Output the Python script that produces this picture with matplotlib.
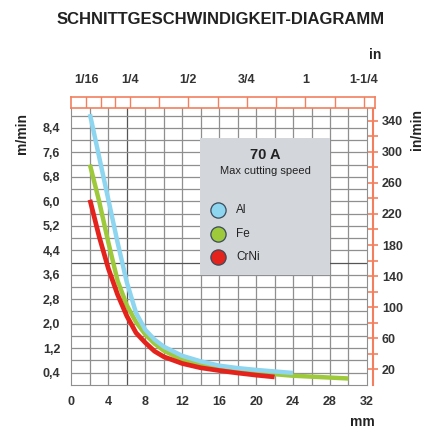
import matplotlib.pyplot as plt
from matplotlib.patches import Rectangle
from matplotlib.ticker import FixedLocator

plt.rcParams['font.family'] = ['Liberation Sans Narrow', 'Liberation Sans', 'DejaVu Sans']

# data (mm thickness -> m/min)
al_mm = [2, 3, 4, 5, 6, 7, 8, 9, 10, 12, 14, 16, 18, 20, 22, 24]
al_speed = [8.85, 7.45, 6.05, 4.65, 3.35, 2.35, 1.8, 1.48, 1.25, 0.95, 0.77, 0.63, 0.55, 0.49, 0.44, 0.39]

fe_mm = [2, 3, 4, 5, 6, 7, 8, 9, 10, 12, 14, 16, 18, 20, 22, 24, 26, 28, 30]
fe_speed = [7.2, 6.0, 4.65, 3.4, 2.6, 2.05, 1.65, 1.35, 1.12, 0.82, 0.65, 0.54, 0.46, 0.4, 0.35, 0.3, 0.27, 0.24, 0.21]

crni_mm = [2, 3, 4, 5, 6, 7, 8, 9, 10, 12, 14, 16, 18, 20, 22]
crni_speed = [6.05, 4.85, 3.8, 2.95, 2.25, 1.7, 1.38, 1.1, 0.92, 0.7, 0.56, 0.47, 0.39, 0.32, 0.26]

mm_ticks = [0, 4, 8, 12, 16, 20, 24, 28, 32]
mmin_ticks = [0.4, 1.2, 2.0, 2.8, 3.6, 4.4, 5.2, 6.0, 6.8, 7.6, 8.4]
inmin_labels = [20, 60, 100, 140, 180, 220, 260, 300, 340]
inch_labels = ['1/16', '1/4', '1/2', '3/4', '1', '1-1/4']
inch_label_pos = [1/16, 1/4, 1/2, 3/4, 1, 1.25]
inch_ruler = [1/16, 1/8, 3/16, 1/4, 3/8, 1/2, 5/8, 3/4, 7/8, 1, 9/8, 5/4]

c_al = '#8ed5ef'
c_fe = '#9dc93a'
c_crni = '#e5231d'
c_red = '#f2805f'
txt = '#333333'

fig = plt.figure(figsize=(4.33, 4.32), dpi=100)
ax = fig.add_axes([0.165, 0.109, 0.6824, 0.641])
ax.set_xlim(0, 32)
ax.set_ylim(0, 9.05)

# grid
for x in range(2, 32, 2):
    ax.axvline(x, color='#555555' if x == 6 else '#8f8f8f', lw=0.9, zorder=1)
for i in range(1, 23):
    y = i * 0.4
    ax.axhline(y, color='#555555' if abs(y - 4.0) < 1e-6 else '#8f8f8f', lw=0.9, zorder=1)

for s in ['left', 'bottom', 'right']:
    ax.spines[s].set_color('#8f8f8f')
ax.spines['top'].set_visible(False)

ax.plot(fe_mm, fe_speed, color=c_fe, lw=3.2, solid_capstyle='butt', zorder=3)
ax.plot(al_mm, al_speed, color=c_al, lw=3.2, solid_capstyle='butt', zorder=4)
ax.plot(crni_mm, crni_speed, color=c_crni, lw=3.4, solid_capstyle='butt', zorder=5)

ax.set_xticks(mm_ticks)
ax.set_xticklabels([str(t) for t in mm_ticks])
ax.set_yticks(mmin_ticks)
ax.set_yticklabels([('%.1f' % t).replace('.', ',') for t in mmin_ticks])
ax.tick_params(length=0, labelsize=9, colors=txt, pad=8)
for lab in ax.get_xticklabels() + ax.get_yticklabels():
    lab.set_fontweight('bold')

# legend box
ax.add_patch(Rectangle((0.435, 0.397), 0.44, 0.495, transform=ax.transAxes,
                       facecolor='#d3d6db', edgecolor='none', zorder=6))
ax.text(0.655, 0.83, '70 A', transform=ax.transAxes, ha='center', va='center',
        fontsize=10.5, fontweight='bold', color='#222222', zorder=7)
ax.text(0.655, 0.773, 'Max cutting speed', transform=ax.transAxes, ha='center', va='center',
        fontsize=8, color='#222222', zorder=7)
for yy, col, name in [(0.632, c_al, 'Al'), (0.545, c_fe, 'Fe'), (0.462, c_crni, 'CrNi')]:
    ax.scatter([0.496], [yy], s=120, color=col, edgecolor='#3a4a5a', lw=0.9,
               transform=ax.transAxes, zorder=7, clip_on=False)
    ax.text(0.557, yy, name, transform=ax.transAxes, ha='left', va='center',
            fontsize=8.5, color='#222222', zorder=7)

# right in/min axis
ax2 = ax.twinx()
ax2.set_ylim(0, 9.05 * 39.37)
ax2.spines['right'].set_position(('outward', 4.3))
ax2.spines['right'].set_color(c_red)
ax2.spines['right'].set_linewidth(1.5)
for s in ['left', 'top', 'bottom']:
    ax2.spines[s].set_visible(False)
ax2.yaxis.set_major_locator(FixedLocator(inmin_labels))
ax2.yaxis.set_minor_locator(FixedLocator(list(range(40, 360, 40))))
ax2.tick_params(axis='y', which='both', direction='inout', length=7, width=1.2,
                color=c_red, labelsize=9, labelcolor=txt, pad=3)
for lab in ax2.get_yticklabels():
    lab.set_fontweight('bold')

# top inch ruler
axt = fig.add_axes([0.165, 0.75, 0.701, 0.0255])
axt.set_xlim(0, 1.298)
axt.set_ylim(0, 1)
axt.set_yticks([])
for s in axt.spines.values():
    s.set_color(c_red)
    s.set_linewidth(1.2)
for xr in inch_ruler:
    axt.axvline(xr, color=c_red, lw=1.0)
axt.xaxis.tick_top()
axt.set_xticks(inch_label_pos)
axt.set_xticklabels(inch_labels)
axt.tick_params(axis='x', length=0, labelsize=9, colors=txt, pad=8)
for lab in axt.get_xticklabels():
    lab.set_fontweight('bold')

fig.text(0.51, 0.954, 'SCHNITTGESCHWINDIGKEIT-DIAGRAMM', ha='center', va='center',
         fontsize=12, fontweight='bold', color='#222222')
fig.text(0.866, 0.873, 'in', ha='center', va='center', fontsize=10, fontweight='bold', color='#222222')
fig.text(0.836, 0.022, 'mm', ha='center', va='center', fontsize=10, fontweight='bold', color='#222222')
fig.text(0.051, 0.69, 'm/min', ha='center', va='center', rotation=90, fontsize=10,
         fontweight='bold', color='#222222')
fig.text(0.962, 0.70, 'in/min', ha='center', va='center', rotation=90, fontsize=10,
         fontweight='bold', color='#222222')

fig.savefig('out.png', dpi=100)
